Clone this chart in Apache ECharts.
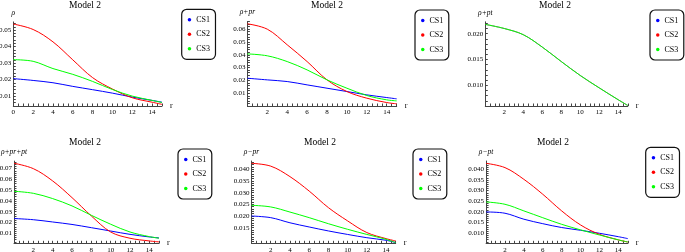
<!DOCTYPE html>
<html>
<head>
<meta charset="utf-8">
<script src="https://cdn.jsdelivr.net/npm/echarts@6/dist/echarts.min.js"></script>
<style>
html, body { margin: 0; padding: 0; background: #fff; }
#chart { width: 685px; height: 252px; }
</style>
</head>
<body>
<div id="chart"></div>
<script>
var r = [0, 2, 4, 6, 8, 10, 12, 14, 15];
var seriesNames = ['CS1', 'CS2', 'CS3'];
var colors = ['#0000ff', '#ff0000', '#00ff00'];

// rho
var rho_CS1 = [0.0206, 0.0195, 0.0181, 0.0159, 0.0139, 0.0118, 0.0094, 0.0074, 0.0063];
var rho_CS2 = [0.0537, 0.0504, 0.0429, 0.0320, 0.0212, 0.0143, 0.0090, 0.0063, 0.0050];
var rho_CS3 = [0.0321, 0.0311, 0.0267, 0.0232, 0.0189, 0.0140, 0.0100, 0.0074, 0.0061];
// rho + pr
var rhoPr_CS1 = [0.0217, 0.0204, 0.0191, 0.0165, 0.0139, 0.0113, 0.0087, 0.0066, 0.0056];
var rhoPr_CS2 = [0.0642, 0.0600, 0.0478, 0.0347, 0.0204, 0.0113, 0.0061, 0.0027, 0.0017];
var rhoPr_CS3 = [0.0407, 0.0392, 0.0347, 0.0282, 0.0204, 0.0139, 0.0082, 0.0048, 0.0040];
// rho + pt (the three curves coincide)
var rhoPt_CS1 = [0.0218, 0.0210, 0.0198, 0.0174, 0.0146, 0.0119, 0.0095, 0.0072, 0.0061];
var rhoPt_CS2 = [0.0218, 0.0210, 0.0198, 0.0174, 0.0146, 0.0119, 0.0095, 0.0072, 0.0061];
var rhoPt_CS3 = [0.0218, 0.0210, 0.0198, 0.0174, 0.0146, 0.0119, 0.0095, 0.0072, 0.0061];
// rho + pr + pt
var rhoPrPt_CS1 = [0.0237, 0.0226, 0.0205, 0.0182, 0.0152, 0.0121, 0.0090, 0.0066, 0.0057];
var rhoPrPt_CS2 = [0.0750, 0.0700, 0.0586, 0.0431, 0.0261, 0.0112, 0.0054, 0.0029, 0.0020];
var rhoPrPt_CS3 = [0.0490, 0.0471, 0.0422, 0.0354, 0.0267, 0.0184, 0.0112, 0.0069, 0.0054];
// rho - pr
var rhoMPr_CS1 = [0.0200, 0.0193, 0.0171, 0.0153, 0.0136, 0.0121, 0.0107, 0.0096, 0.0086];
var rhoMPr_CS2 = [0.0426, 0.0414, 0.0369, 0.0307, 0.0236, 0.0179, 0.0129, 0.0103, 0.0093];
var rhoMPr_CS3 = [0.0246, 0.0239, 0.0217, 0.0193, 0.0167, 0.0143, 0.0121, 0.0100, 0.0086];
// rho - pt
var rhoMPt_CS1 = [0.0200, 0.0194, 0.0166, 0.0145, 0.0127, 0.0114, 0.0100, 0.0084, 0.0075];
var rhoMPt_CS2 = [0.0428, 0.0408, 0.0353, 0.0283, 0.0205, 0.0139, 0.0095, 0.0069, 0.0059];
var rhoMPt_CS3 = [0.0247, 0.0236, 0.0205, 0.0173, 0.0142, 0.0116, 0.0092, 0.0069, 0.0059];

// tick labels
var xLabelsZero = [0, 2, 4, 6, 8, 10, 12, 14];
var xLabels = [2, 4, 6, 8, 10, 12, 14];
var rho_yLabels = [0.01, 0.02, 0.03, 0.04, 0.05];
var rhoPr_yLabels = [0.01, 0.02, 0.03, 0.04, 0.05, 0.06];
var rhoPt_yLabels = [0.010, 0.015, 0.020];
var rhoPrPt_yLabels = [0.01, 0.02, 0.03, 0.04, 0.05, 0.06, 0.07];
var rhoMPr_yLabels = [0.015, 0.020, 0.025, 0.030, 0.035, 0.040];
var rhoMPt_yLabels = [0.010, 0.015, 0.020, 0.025, 0.030, 0.035, 0.040];

var panels = [
    { label: 'ρ', lines: [rho_CS1, rho_CS2, rho_CS3], xl: xLabelsZero, yl: rho_yLabels, ymin: 0.004, ymax: 0.055, step: 0.002, dig: 2,
      box: [13.3, 21.9, 148.7, 84.1], leg: [181.7, 9.3], title: [85, 0] },
    { label: 'ρ+pr', lines: [rhoPr_CS1, rhoPr_CS2, rhoPr_CS3], xl: xLabels, yl: rhoPr_yLabels, ymin: 0, ymax: 0.066, step: 0.002, dig: 2,
      box: [247.4, 21.5, 149.3, 84.5], leg: [415, 10], title: [327, 0] },
    { label: 'ρ+pt', lines: [rhoPt_CS1, rhoPt_CS2, rhoPt_CS3], xl: xLabels, yl: rhoPt_yLabels, ymin: 0.006, ymax: 0.0223, step: 0.001, dig: 3,
      box: [485.3, 21.8, 142.5, 84.2], leg: [650, 10], title: [555, 0], hidden: true },
    { label: 'ρ+pr+pt', lines: [rhoPrPt_CS1, rhoPrPt_CS2, rhoPrPt_CS3], xl: xLabels, yl: rhoPrPt_yLabels, ymin: 0.0007, ymax: 0.077, step: 0.002, dig: 2,
      box: [14, 161.1, 145, 82.2], leg: [178, 149], title: [85, 137.5] },
    { label: 'ρ−pr', lines: [rhoMPr_CS1, rhoMPr_CS2, rhoMPr_CS3], xl: xLabels, yl: rhoMPr_yLabels, ymin: 0.0083, ymax: 0.0436, step: 0.001, dig: 3,
      box: [251.5, 161, 144.2, 82.3], leg: [413, 149], title: [320, 137.5] },
    { label: 'ρ−pt', lines: [rhoMPt_CS1, rhoMPt_CS2, rhoMPt_CS3], xl: xLabels, yl: rhoMPt_yLabels, ymin: 0.0053, ymax: 0.0439, step: 0.001, dig: 3,
      box: [486.1, 161, 141.7, 82.3], leg: [645.7, 147.3], title: [553, 137.5] }
];

function tickList(min, max, step) {
    var out = [];
    var v = Math.ceil(min / step - 1e-9);
    for (; v * step <= max + 1e-12; v++) {
        out.push(+(v * step).toFixed(6));
    }
    return out;
}

var serif = 'Liberation Serif';
var axisColor = '#444';
var grids = [], xAxes = [], yAxes = [], series = [], legends = [], titles = [];

panels.forEach(function (p, i) {
    grids.push({ left: p.box[0], top: p.box[1], width: p.box[2], height: p.box[3], outerBoundsMode: 'none' });
    xAxes.push({
        type: 'value', gridIndex: i, min: 0, max: 15,
        name: 'r', nameLocation: 'end', nameGap: 8,
        nameTextStyle: { fontFamily: serif, fontSize: 8, color: '#000' },
        axisLine: { onZero: false, lineStyle: { color: axisColor, width: 1 } },
        axisTick: { inside: true, length: 2.5, customValues: tickList(0, 15, 0.5), lineStyle: { color: axisColor } },
        axisLabel: { customValues: p.xl, fontFamily: serif, fontSize: 7, color: '#000', margin: 3 },
        splitLine: { show: false }
    });
    yAxes.push({
        type: 'value', gridIndex: i, min: p.ymin, max: p.ymax,
        name: p.label, nameLocation: 'end', nameGap: 5,
        nameTextStyle: { fontFamily: serif, fontStyle: 'italic', fontSize: 7.5, color: '#000' },
        axisLine: { onZero: false, lineStyle: { color: axisColor, width: 1 } },
        axisTick: { inside: true, length: 2.5, customValues: tickList(p.ymin, p.ymax, p.step), lineStyle: { color: axisColor } },
        axisLabel: {
            customValues: p.yl, fontFamily: serif, fontSize: 7, color: '#000', margin: 2,
            formatter: (function (d) { return function (v) { return v.toFixed(d); }; })(p.dig)
        },
        splitLine: { show: false }
    });
    p.lines.forEach(function (vals, k) {
        // where the curves coincide only the last one (green) should show
        var under = p.hidden && k < 2;
        series.push({
            type: 'line', name: seriesNames[k], xAxisIndex: i, yAxisIndex: i,
            data: r.map(function (x, j) { return [x, vals[j]]; }),
            smooth: 0.35, symbol: 'none',
            lineStyle: { width: under ? 0.4 : 1, color: colors[k] },
            itemStyle: { color: colors[k] }
        });
    });
    legends.push({
        orient: 'vertical', left: p.leg[0], top: p.leg[1],
        data: seriesNames, icon: 'circle', itemWidth: 3.5, itemHeight: 3.5, itemGap: 4.5,
        padding: [5.5, 5.5, 5.5, 6],
        borderColor: '#111', borderWidth: 1.2, borderRadius: 5,
        textStyle: { fontFamily: serif, fontSize: 8, lineHeight: 10, color: '#000' }
    });
    titles.push({
        text: 'Model 2', left: p.title[0], top: p.title[1], textAlign: 'center', padding: 0,
        textStyle: { fontFamily: serif, fontSize: 9.5, fontWeight: 'normal', color: '#000' }
    });
});

var myChart = echarts.init(document.getElementById('chart'));
myChart.setOption({
    animation: false,
    backgroundColor: '#fff',
    title: titles,
    legend: legends,
    grid: grids,
    xAxis: xAxes,
    yAxis: yAxes,
    series: series
});
</script>
</body>
</html>
